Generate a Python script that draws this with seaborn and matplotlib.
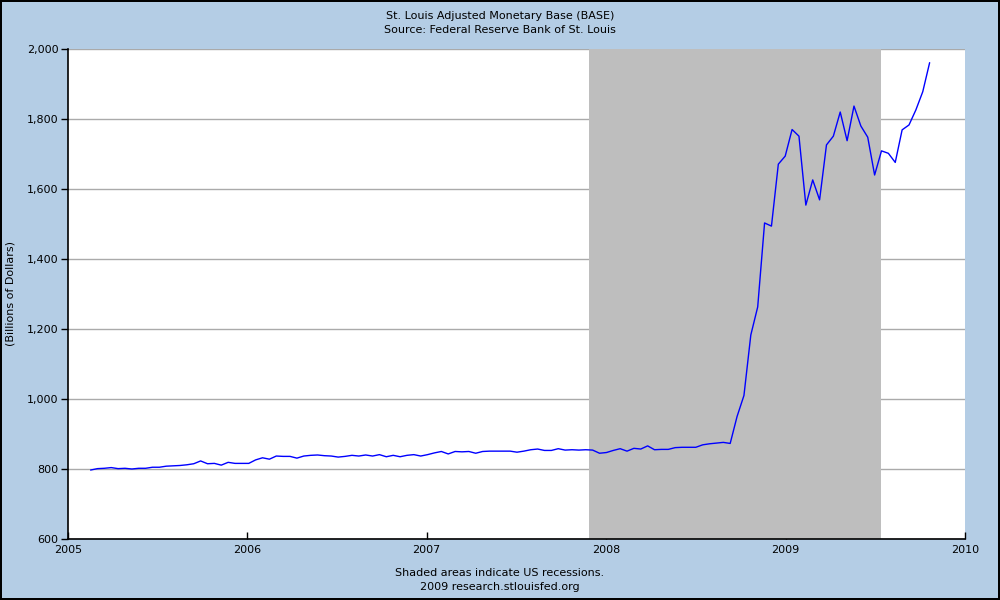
import pandas as pd
import numpy as np
import matplotlib
matplotlib.use("Agg")
import matplotlib.pyplot as plt
import matplotlib.dates as mdates
from matplotlib.ticker import FuncFormatter
import seaborn as sns

# biweekly observations, Feb 2005 - Oct 2009 (billions of dollars)
fecha_inicio = "2005-02-16"
valores_base = [
    797, 801, 802, 804, 801, 802, 800, 802, 802, 805,
    805, 808, 809, 810, 812, 815, 823, 815, 816, 811,
    819, 816, 816, 816, 826, 832, 828, 837, 836, 836,
    831, 837, 839, 840, 838, 837, 834, 836, 839, 837,
    840, 837, 841, 835, 839, 835, 839, 841, 837, 841,
    846, 850, 843, 850, 849, 850, 845, 850, 851, 851,
    851, 851, 848, 851, 855, 857, 853, 853, 858, 854,
    855, 854, 855, 854, 845, 847, 853, 858, 851, 859,
    857, 866, 855, 856, 856, 861, 862, 862, 862, 869,
    872, 874, 876, 873, 950, 1010, 1183, 1263, 1503, 1494,
    1671, 1694, 1770, 1751, 1554, 1626, 1569, 1726, 1751, 1820,
    1738, 1837, 1780, 1748, 1640, 1709, 1702, 1676, 1769, 1783,
    1826, 1878, 1961,
]
recesion_inicio = "2007-11-28"
recesion_fin = "2009-07-15"

titulo = "St. Louis Adjusted Monetary Base (BASE)"
subtitulo = "Source: Federal Reserve Bank of St. Louis"
etiqueta_y = "(Billions of Dollars)"
nota_1 = "Shaded areas indicate US recessions."
nota_2 = "2009 research.stlouisfed.org"

df = pd.DataFrame({
    "fecha": pd.date_range(fecha_inicio, periods=len(valores_base), freq="14D"),
    "valor": valores_base,
})

sns.set_theme(style="white")
plt.rcParams["font.family"] = ["DejaVu Sans"]
plt.rcParams.update({"text.color": "black", "axes.labelcolor": "black",
                     "xtick.color": "black", "ytick.color": "black"})

fondo = "#B4CDE5"
fig = plt.figure(figsize=(10, 6), dpi=100, facecolor=fondo, edgecolor="black", linewidth=1.5)
ax = fig.add_axes([0.068, 0.1017, 0.897, 0.8166])
ax.set_facecolor("white")

ax.axvspan(pd.Timestamp(recesion_inicio), pd.Timestamp(recesion_fin), color="#BEBEBE", lw=0, zorder=1)
sns.lineplot(data=df, x="fecha", y="valor", ax=ax, color="#0000FF", linewidth=1, zorder=3)

ax.set_xlim(pd.Timestamp("2005-01-01"), pd.Timestamp("2010-01-01"))
ax.set_ylim(600, 2000)
ax.set_yticks(range(600, 2001, 200))
ax.yaxis.set_major_formatter(FuncFormatter(lambda v, p: f"{int(v):,}"))
ax.xaxis.set_major_locator(mdates.YearLocator())
ax.xaxis.set_major_formatter(mdates.DateFormatter("%Y"))

ax.set_axisbelow(True)
ax.grid(axis="y", color="#AAAAAA", linewidth=1, zorder=0)
ax.grid(axis="x", visible=False)

for lado in ["top", "right"]:
    ax.spines[lado].set_visible(False)
for lado in ["left", "bottom"]:
    ax.spines[lado].set_color("black")
    ax.spines[lado].set_linewidth(1.2)

ax.tick_params(axis="y", direction="out", length=5, width=1, color="black", labelsize=8, pad=2, left=True)
ax.tick_params(axis="x", direction="in", length=5, width=1, color="black", labelsize=8, pad=4, bottom=True)

ax.set_xlabel("")
ax.set_ylabel(etiqueta_y, fontsize=8, labelpad=8)

fig.text(0.5, 0.982, titulo, ha="center", va="top", fontsize=8)
fig.text(0.5, 0.958, subtitulo, ha="center", va="top", fontsize=8)
fig.text(0.5, 0.045, nota_1, ha="center", va="center", fontsize=8)
fig.text(0.5, 0.022, nota_2, ha="center", va="center", fontsize=8)

plt.savefig("out.png", dpi=100, facecolor=fig.get_facecolor(), edgecolor=fig.get_edgecolor())
plt.close()
